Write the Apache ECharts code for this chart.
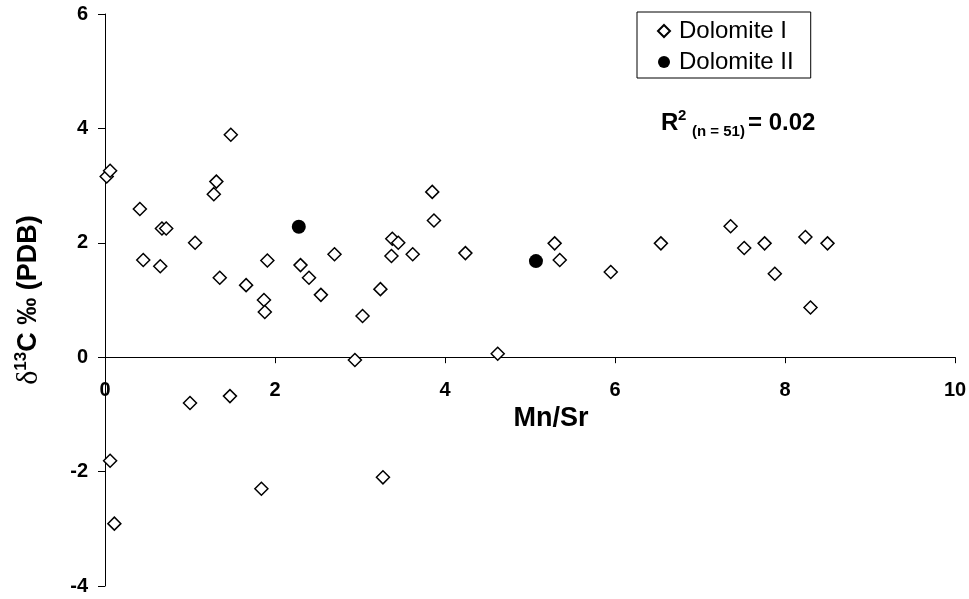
<!DOCTYPE html>
<html>
<head>
<meta charset="utf-8">
<script src="https://cdn.jsdelivr.net/npm/echarts@6/dist/echarts.min.js"></script>
<style>
  html, body {margin: 0; padding: 0; background: #fff;}
  #chart {width: 969px; height: 599px;}
</style>
</head>
<body>
<div id="chart"></div>
<script>
// Dolomite I: [Mn/Sr, d13C]
const dolomite1 = [
  [0.02, 3.16], [0.06, 3.26], [0.41, 2.59], [0.45, 1.70], [0.65, 1.59],
  [0.67, 2.25], [0.72, 2.25], [1.06, 2.00], [1.00, -0.80], [1.48, 3.89],
  [1.31, 3.07], [1.28, 2.85], [1.35, 1.39], [1.47, -0.68], [1.66, 1.26],
  [1.87, 1.00], [1.88, 0.79], [1.91, 1.69], [1.84, -2.30], [2.30, 1.61],
  [2.40, 1.39], [2.54, 1.09], [2.70, 1.80], [2.94, -0.05], [3.03, 0.72],
  [3.24, 1.19], [3.27, -2.10], [3.38, 2.07], [3.37, 1.77], [3.45, 2.00],
  [3.62, 1.80], [3.85, 2.89], [3.87, 2.39], [4.24, 1.82], [4.62, 0.06],
  [5.29, 1.99], [5.35, 1.70], [5.95, 1.49], [6.54, 1.99], [7.36, 2.29],
  [7.52, 1.91], [7.76, 1.99], [7.88, 1.46], [8.24, 2.10], [8.30, 0.87],
  [8.50, 1.99], [0.06, -1.81], [0.11, -2.91]
];
// Dolomite II
const dolomite2 = [
  [2.28, 2.28], [5.07, 1.68]
];
const seriesNames = ['Dolomite I', 'Dolomite II'];

const chart = echarts.init(document.getElementById('chart'));
const font = 'Arial, "Liberation Sans", sans-serif';

const gridTop = 14, gridBottom = 13, chartH = 599;
const yMin = -4, yMax = 6;
// put the x axis (line, ticks, labels) on y = 0
const zeroOffset = -(chartH - gridTop - gridBottom) * (0 - yMin) / (yMax - yMin);

let option = {
  backgroundColor: '#fff',
  animation: false,
  grid: {left: 105, right: 14, top: gridTop, bottom: gridBottom, outerBoundsMode: 'none', containLabel: false},
  legend: {
    orient: 'vertical',
    left: 637,
    top: 12,
    padding: [7, 17, 4, 20],
    itemGap: 7,
    itemWidth: 12,
    itemHeight: 12,
    borderColor: '#000',
    borderWidth: 1,
    data: seriesNames,
    textStyle: {
      fontFamily: font,
      fontSize: 24,
      color: '#000',
      padding: [0, 0, 0, 4]
    }
  },
  xAxis: {
    type: 'value',
    min: 0,
    max: 10,
    interval: 2,
    offset: zeroOffset,
    name: 'Mn/Sr',
    nameLocation: 'middle',
    nameGap: 40,
    nameTextStyle: {
      fontFamily: font,
      fontSize: 27,
      fontWeight: 'bold',
      color: '#000',
      padding: [0, 0, 0, 42]
    },
    axisLine: {onZero: false, lineStyle: {color: '#000', width: 1}},
    axisTick: {length: 6, lineStyle: {color: '#000'}},
    axisLabel: {
      margin: 23,
      fontFamily: font,
      fontSize: 20,
      fontWeight: 'bold',
      color: '#000'
    },
    splitLine: {show: false}
  },
  yAxis: {
    type: 'value',
    min: yMin,
    max: yMax,
    interval: 2,
    name: '{d|δ}{s|13}{b|C ‰ (PDB)}',
    nameLocation: 'middle',
    nameRotate: 90,
    nameGap: 60,
    nameTextStyle: {
      rich: {
        d: {fontFamily: '"Liberation Serif", serif', fontSize: 30, color: '#000', lineHeight: 32},
        s: {fontFamily: font, fontSize: 17, fontWeight: 'bold', color: '#000', verticalAlign: 'top', lineHeight: 32},
        b: {fontFamily: font, fontSize: 27, fontWeight: 'bold', color: '#000', lineHeight: 32}
      }
    },
    axisLine: {show: true, onZero: false, lineStyle: {color: '#000', width: 1}},
    axisTick: {show: true, length: 7, lineStyle: {color: '#000'}},
    axisLabel: {
      margin: 17,
      fontFamily: font,
      fontSize: 20,
      fontWeight: 'bold',
      color: '#000'
    },
    splitLine: {show: false}
  },
  graphic: [
    {type: 'text', left: 661, top: 111, style: {text: 'R', font: 'bold 24px ' + font, fill: '#000'}},
    {type: 'text', left: 678, top: 108, style: {text: '2', font: 'bold 15px ' + font, fill: '#000'}},
    {type: 'text', left: 692, top: 124, style: {text: '(n = 51)', font: 'bold 15px ' + font, fill: '#000'}},
    {type: 'text', left: 748, top: 111, style: {text: '= 0.02', font: 'bold 24px ' + font, fill: '#000'}}
  ],
  series: [
    {
      name: seriesNames[0],
      type: 'scatter',
      symbol: 'diamond',
      symbolSize: 13,
      data: dolomite1,
      itemStyle: {color: '#fff', borderColor: '#000', borderWidth: 1.5, opacity: 1}
    },
    {
      name: seriesNames[1],
      type: 'scatter',
      symbol: 'circle',
      symbolSize: 14,
      data: dolomite2,
      itemStyle: {color: '#000', opacity: 1}
    }
  ]
};
chart.setOption(option);
</script>
</body>
</html>
